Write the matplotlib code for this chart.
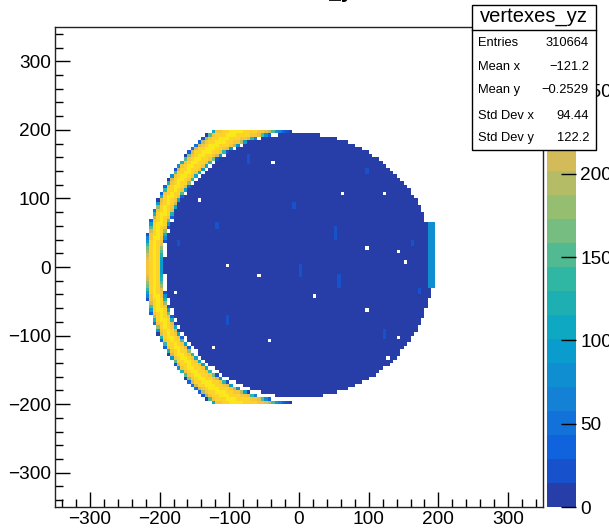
import numpy as np
import matplotlib
matplotlib.use("Agg")
import matplotlib.pyplot as plt
from matplotlib.colors import ListedColormap, BoundaryNorm, LinearSegmentedColormap
from matplotlib.patches import Rectangle
from matplotlib.lines import Line2D

plt.rcParams["font.family"] = ["Liberation Sans", "DejaVu Sans"]

# histogram binning
bin_edges = np.linspace(-350, 350, 141)
z_max = 288.0
n_levels = 20

# shapes (data units)
disk_center = [0.0, 2.0]
disk_radius = 193.0
disk_level = 6.0

crescent_outer = [28.5, 0.0, 248.5]   # cx, cy, r
crescent_inner = [1.0, 0.0, 199.0]
crescent_ycut = 200.0
crescent_tip_x = [-50.0, -10.0]
crescent_peak = 262.0

# lighter vertical streaks in the disk: x, y_top, y_bottom
streak_x = [-72, -116, -171, -102, 3, 10, -7, 96, 100, 52, 57, 121, 171, 164]
streak_top = [166, 64, 39, -70, 6, -73, 97, 146, 117, 58, -9, -92, -29, 39]
streak_bot = [152, 54, 29, -87, -15, -92, 83, 137, 105, 39, -29, -103, -41, 28]
streak_level = 22.0

# bright column on the right edge of the disk
column_x = [184, 195]
column_y = [-30, 64]
column_level = 78.0

# empty bins inside the disk
hole_x = [-36, -50, -141, -155, -102, -57, -44, -123, -22, 22, -179,
          63, 122, 105, 98, 141, 90, 98, 143, 129, 151]
hole_y = [153, 118, 97, 58, 3, -12, -109, -119, -175, -44, -38,
          108, 108, 150, 28, 23, -39, -64, -102, -134, 6]

stats_labels = ["Entries", "Mean x", "Mean y", "Std Dev x", "Std Dev y"]
stats_values = ["310664", "\u2212121.2", "\u22120.2529", "94.44", "122.2"]

# ROOT kBird palette
bird_stops = [0.0, 0.125, 0.25, 0.375, 0.5, 0.625, 0.75, 0.875, 1.0]
bird_r = [0.2082, 0.0592, 0.0780, 0.0232, 0.1802, 0.5301, 0.8186, 0.9956, 0.9764]
bird_g = [0.1664, 0.3599, 0.5041, 0.6419, 0.7178, 0.7492, 0.7328, 0.7862, 0.9832]
bird_b = [0.5293, 0.8684, 0.8385, 0.7914, 0.6425, 0.4662, 0.3499, 0.1968, 0.0539]


# build the 2D histogram
centers = 0.5 * (bin_edges[:-1] + bin_edges[1:])
X, Y = np.meshgrid(centers, centers)


def cover(d):
    return np.clip(d / 5.0 + 0.5, 0, 1)


d_disk = disk_radius - np.hypot(X - disk_center[0], Y - disk_center[1])
z = np.where(d_disk >= 0, disk_level, 0.0)

d_out = crescent_outer[2] - np.hypot(X - crescent_outer[0], Y - crescent_outer[1])
d_in = np.hypot(X - crescent_inner[0], Y - crescent_inner[1]) - crescent_inner[2]
cov = cover(d_out) * cover(d_in) * cover(crescent_ycut - np.abs(Y))
fade = np.clip((crescent_tip_x[1] - X) / (crescent_tip_x[1] - crescent_tip_x[0]), 0, 1)
t = np.clip(d_out / np.maximum(d_out + d_in, 1e-6), 0, 1)
bump = 0.86 + 0.14 * np.sin(np.pi * t)
z_cres = crescent_peak * cov * fade * bump
z_cres[(z_cres > 0) & (z_cres < 3)] = 3
z = np.where(z_cres > 0, z_cres, z)

for sx, st, sb in zip(streak_x, streak_top, streak_bot):
    m = (np.abs(X - sx) < 2.5) & (Y <= st) & (Y >= sb) & (z > 0)
    z[m] = streak_level

m = (X >= column_x[0]) & (X <= column_x[1]) & (Y >= column_y[0]) & (Y <= column_y[1])
z[m] = column_level

for hx, hy in zip(hole_x, hole_y):
    m = (np.abs(X - hx) < 2.5) & (np.abs(Y - hy) < 2.5)
    z[m] = 0

zm = np.ma.masked_less_equal(z, 0)

bird = LinearSegmentedColormap.from_list(
    "bird", list(zip(bird_stops, zip(bird_r, bird_g, bird_b))))
colors = [bird((i + 1) / n_levels) for i in range(n_levels)]
cmap = ListedColormap(colors)
levels = np.linspace(0, z_max, n_levels + 1)
norm = BoundaryNorm(levels, n_levels)

# figure
W, H = 609, 528
fig = plt.figure(figsize=(W / 100, H / 100), dpi=100)
ax = fig.add_axes([55 / W, 21 / H, 488 / W, 480 / H])
cax = fig.add_axes([547 / W, 21 / H, 29 / W, 480 / H])

mesh = ax.pcolormesh(bin_edges, bin_edges, zm, cmap=cmap, norm=norm)
ax.set_xlim(-350, 350)
ax.set_ylim(-350, 350)
ax.set_xticks(np.arange(-300, 301, 100))
ax.set_yticks(np.arange(-300, 301, 100))
ax.set_xticks(np.arange(-340, 341, 20), minor=True)
ax.set_yticks(np.arange(-340, 341, 20), minor=True)
ax.tick_params(which="both", direction="in", top=False, right=False,
               width=1, labelsize=13.7)
ax.tick_params(which="major", length=10.5)
ax.tick_params(which="minor", length=5.5)
ax.tick_params(axis="x", pad=3)
ax.tick_params(axis="y", pad=3)
for s in ax.spines.values():
    s.set_linewidth(1)
    s.set_color("#222222")

cb = fig.colorbar(mesh, cax=cax, spacing="proportional")
cb.outline.set_visible(False)
cb.set_ticks(np.arange(0, 251, 50))
cax.tick_params(direction="in", length=10.5, width=1, labelsize=13.7, pad=3)
cax.minorticks_off()

# title (mostly outside the picture, as in the original)
fig.text(0.5, 1 + 2 / H, "vertexes_yz", ha="center", va="baseline",
         fontsize=15, fontweight="bold")

# stats box
bx0, by0, bx1, by1 = 472, 5, 596, 150
fig.add_artist(Rectangle((bx0 / W, 1 - by1 / H), (bx1 - bx0) / W, (by1 - by0) / H,
                         transform=fig.transFigure, facecolor="white",
                         edgecolor="black", linewidth=1, zorder=10))
fig.add_artist(Line2D([bx0 / W, bx1 / W], [1 - 29.5 / H, 1 - 29.5 / H],
                      transform=fig.transFigure, color="black", linewidth=1, zorder=11))
fig.text((bx0 + bx1) / 2 / W, 1 - 17 / H, "vertexes_yz", ha="center", va="center",
         fontsize=14.5, zorder=12)
row_y = [43, 67, 90, 116, 138]
for lab, val, ry in zip(stats_labels, stats_values, row_y):
    fig.text(478 / W, 1 - ry / H, lab, ha="left", va="center", fontsize=9.3, zorder=12)
    fig.text(589 / W, 1 - ry / H, val, ha="right", va="center", fontsize=9.3, zorder=12)

fig.savefig("out.png", dpi=100)
